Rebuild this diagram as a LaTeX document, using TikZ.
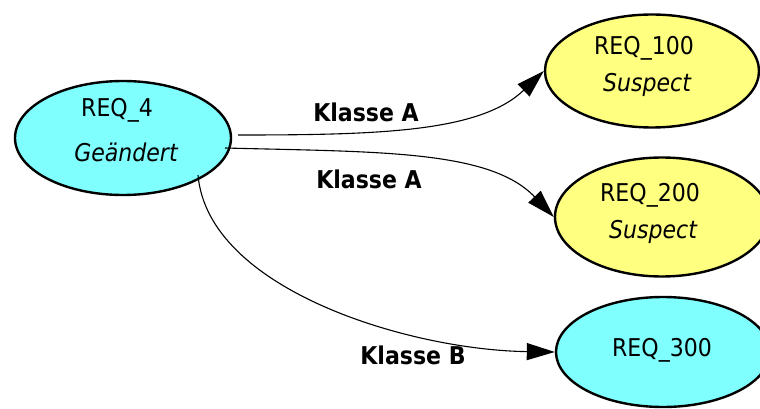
\documentclass[tikz,border=0pt]{standalone}
\usepackage{fontspec}
\setmainfont{DejaVu Sans Condensed}
\usetikzlibrary{shapes.geometric,arrows.meta}
\definecolor{cyanfill}{HTML}{80FFFF}
\definecolor{yellowfill}{HTML}{FFFF80}
\begin{document}
\begin{tikzpicture}[x=1pt,y=-1pt,
  req/.style={ellipse,draw=black,line width=2.4pt,inner sep=0pt},
  txt/.style={inner sep=0pt,font=\fontsize{24.5}{28}\selectfont},
  itxt/.style={txt,font=\fontsize{24.5}{28}\selectfont\itshape},
  lbl/.style={inner sep=0pt,font=\fontsize{24.5}{28}\selectfont\bfseries},
  conn/.style={line width=1.1pt,-{Triangle[length=28pt,width=17pt]}}]
\useasboundingbox (0,0) rectangle (760,409);
% nodes
\node[req,fill=cyanfill,minimum width=216pt,minimum height=114pt] (r4) at (123,138) {};
\node[txt] (r4a) at (117,110) {REQ\_4};
\node[itxt] (r4b) at (126,152) {Geändert};
\node[req,fill=yellowfill,minimum width=214pt,minimum height=113pt] (r100) at (652,71) {};
\node[txt] (r100a) at (644,48) {REQ\_100};
\node[itxt] (r100b) at (647,85) {Suspect};
\node[req,fill=yellowfill,minimum width=214pt,minimum height=119pt] (r200) at (662,217) {};
\node[txt] (r200a) at (650,195) {REQ\_200};
\node[itxt] (r200b) at (653,232) {Suspect};
\node[req,fill=cyanfill,minimum width=214pt,minimum height=110pt] (r300) at (663,352) {};
\node[txt] (r300a) at (662,350) {REQ\_300};
% start coordinates
\coordinate (s1) at (238,135);
\coordinate (s2) at (225,148);
\coordinate (s3) at (198,175);
% connectors
\draw[conn] (s1) .. controls (380,135) and (480,132) .. (r100.west);
\draw[conn] (s2) .. controls (380,152) and (490,150) .. (r200.west);
\draw[conn] (s3) .. controls (208,290) and (410,350) .. (r300.west);
% labels
\node[lbl] (la) at (366,112) {Klasse A};
\node[lbl] (lb) at (369,179) {Klasse A};
\node[lbl] (lc) at (413,355) {Klasse B};
\end{tikzpicture}
\end{document}
